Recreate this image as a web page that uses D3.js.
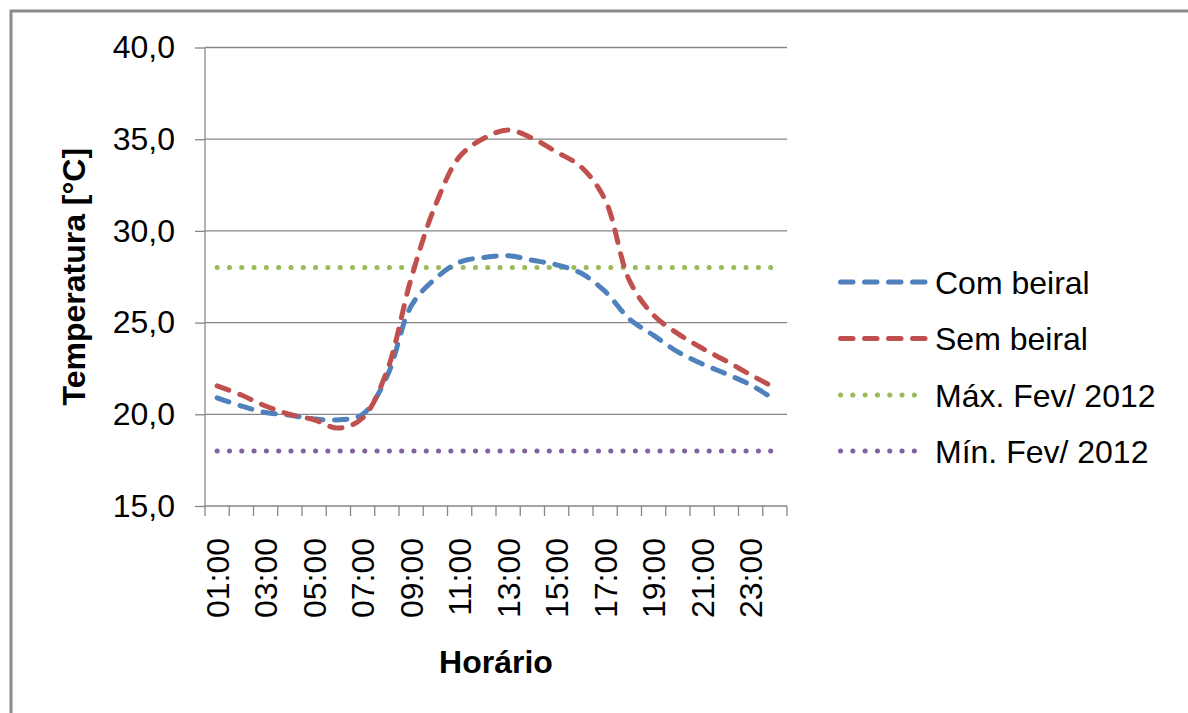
<!DOCTYPE html>
<html>
<head>
<meta charset="utf-8">
<script src="https://cdn.jsdelivr.net/npm/d3@7"></script>
<style>
  html, body { margin: 0; padding: 0; background: #fff; }
  svg { display: block; font-family: "Liberation Sans", Arial, sans-serif; }
</style>
</head>
<body>
<svg id="chart" width="1188" height="713"></svg>
<script>
// ---- data ----
const hours = ["01:00","02:00","03:00","04:00","05:00","06:00","07:00","08:00","09:00","10:00","11:00","12:00",
               "13:00","14:00","15:00","16:00","17:00","18:00","19:00","20:00","21:00","22:00","23:00","24:00"];
const tickLabels = ["01:00","03:00","05:00","07:00","09:00","11:00","13:00","15:00","17:00","19:00","21:00","23:00"];
const comBeiral = [20.9, 20.45, 20.1, 19.95, 19.75, 19.7, 20.0, 22.05, 25.9, 27.4, 28.3, 28.55,
                   28.65, 28.4, 28.15, 27.7, 26.7, 25.2, 24.3, 23.4, 22.75, 22.2, 21.6, 20.8];
const semBeiral = [21.55, 21.05, 20.45, 20.0, 19.7, 19.25, 19.8, 22.35, 27.4, 31.4, 34.05, 35.05,
                   35.5, 35.05, 34.3, 33.5, 31.7, 27.3, 25.4, 24.4, 23.6, 22.9, 22.15, 21.45];
const maxFev = [28,28,28,28,28,28,28,28,28,28,28,28,28,28,28,28,28,28,28,28,28,28,28,28];
const minFev = [18,18,18,18,18,18,18,18,18,18,18,18,18,18,18,18,18,18,18,18,18,18,18,18];
const yTicks = [15, 20, 25, 30, 35, 40];
const seriesNames = ["Com beiral", "Sem beiral", "Máx. Fev/ 2012", "Mín. Fev/ 2012"];
const yTitle = "Temperatura [°C]";
const xTitle = "Horário";

(function () {
// ---- layout ----
const svg = d3.select("#chart");
const pLeft = 205, pRight = 787, pTop = 47.5, pBottom = 506;
const gridColor = "#878787";

const x = d3.scaleBand().domain(hours).range([pLeft, pRight]).padding(0);
const y = d3.scaleLinear().domain([15, 40]).range([pBottom, pTop]);
const cx = h => x(h) + x.bandwidth() / 2;

// outer frame
svg.append("rect").attr("x", 11).attr("y", 11).attr("width", 1200).attr("height", 760)
  .attr("fill", "none").attr("stroke", "#8a8a8a").attr("stroke-width", 3);

// gridlines
svg.append("g").selectAll("line").data(yTicks.slice(1)).join("line")
  .attr("x1", pLeft).attr("x2", pRight)
  .attr("y1", d => y(d)).attr("y2", d => y(d))
  .attr("stroke", gridColor).attr("stroke-width", 1.3);

// y axis
const yAxis = d3.axisLeft(y).tickValues(yTicks).tickSize(10).tickPadding(20)
  .tickFormat(d => d3.format(".1f")(d).replace(".", ","));
const gy = svg.append("g").attr("transform", `translate(${pLeft},0)`).call(yAxis);
gy.select(".domain").attr("stroke", gridColor).attr("stroke-width", 1.3).attr("d", `M0,${pTop}V${pBottom}`);
gy.selectAll(".tick line").attr("stroke", gridColor).attr("stroke-width", 1.3);
gy.selectAll(".tick text").attr("font-size", 32).attr("fill", "#000")
  .attr("font-family", "Liberation Sans, Arial, sans-serif");

// x axis (ticks between categories)
svg.append("line").attr("x1", pLeft).attr("x2", pRight).attr("y1", pBottom).attr("y2", pBottom)
  .attr("stroke", gridColor).attr("stroke-width", 1.3);
const boundaries = hours.map(h => x(h)).concat([pRight]);
svg.append("g").selectAll("line").data(boundaries).join("line")
  .attr("x1", d => d).attr("x2", d => d).attr("y1", pBottom).attr("y2", pBottom + 10)
  .attr("stroke", gridColor).attr("stroke-width", 1.3);
svg.append("g").selectAll("text").data(tickLabels).join("text")
  .attr("transform", d => `translate(${cx(d)},${pBottom + 32}) rotate(-90)`)
  .attr("text-anchor", "end").attr("dy", "0.36em")
  .attr("font-size", 32).attr("fill", "#000").text(d => d);

// axis titles
svg.append("text").attr("transform", `translate(85,${(pTop + pBottom) / 2}) rotate(-90)`)
  .attr("text-anchor", "middle").attr("font-size", 32).attr("font-weight", "bold").text(yTitle);
svg.append("text").attr("x", (pLeft + pRight) / 2).attr("y", 673)
  .attr("text-anchor", "middle").attr("font-size", 32).attr("font-weight", "bold").text(xTitle);

// series
const series = [
  { name: seriesNames[0], values: comBeiral, color: "#4F81BD", dash: "12.5,11.5", width: 5, curve: true },
  { name: seriesNames[1], values: semBeiral, color: "#C0504D", dash: "12.5,11.5", width: 5, curve: true },
  { name: seriesNames[2], values: maxFev, color: "#9BBB59", dash: "0.1,12.2", width: 5, curve: false },
  { name: seriesNames[3], values: minFev, color: "#8064A2", dash: "0.1,12.2", width: 5, curve: false }
];

const drawOrder = [3, 2, 0, 1];
drawOrder.forEach(i => {
  const s = series[i];
  const line = d3.line()
    .x((d, j) => cx(hours[j]))
    .y(d => y(d))
    .curve(s.curve ? d3.curveCatmullRom.alpha(0.5) : d3.curveLinear);
  svg.append("path").datum(s.values)
    .attr("d", line)
    .attr("fill", "none").attr("stroke", s.color).attr("stroke-width", s.width)
    .attr("stroke-dasharray", s.dash).attr("stroke-linecap", "round");
});

// legend
const legY = [282, 338.5, 395, 451];
const lg = svg.append("g");
series.forEach((s, i) => {
  lg.append("line").attr("x1", 840.5).attr("x2", 925).attr("y1", legY[i]).attr("y2", legY[i])
    .attr("stroke", s.color).attr("stroke-width", s.width)
    .attr("stroke-dasharray", s.dash).attr("stroke-linecap", "round");
  lg.append("text").attr("x", 935).attr("y", legY[i]).attr("dy", "0.36em")
    .attr("font-size", 32).attr("fill", "#000").text(s.name);
});
})();
</script>
</body>
</html>
